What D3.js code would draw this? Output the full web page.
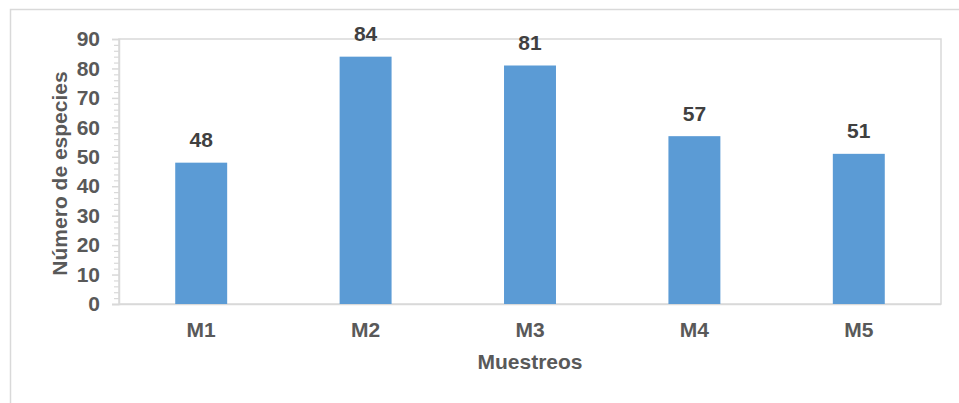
<!DOCTYPE html>
<html>
<head>
<meta charset="utf-8">
<script src="https://cdn.jsdelivr.net/npm/d3@7"></script>
<style>
  html, body { margin: 0; padding: 0; background: #ffffff; }
  svg { display: block; }
  text { font-family: "Liberation Sans", Arial, sans-serif; font-weight: bold; }
</style>
</head>
<body>
<svg id="chart" width="959" height="403"></svg>
<script>
// Species counts per sampling round
const categories = ["M1", "M2", "M3", "M4", "M5"];
const values = [48, 84, 81, 57, 51];
const yTicks = [0, 10, 20, 30, 40, 50, 60, 70, 80, 90];
const yTitle = "Número de especies";
const xTitle = "Muestreos";

const W = 959, H = 403;
const plot = { left: 119, right: 941, top: 39, bottom: 304 };
const grid = "#d9d9d9";
const labelColor = "#595959";
const fontSize = "21px";

const svg = d3.select("#chart");

// chart frame
svg.append("path")
  .attr("d", `M10.5,${H} V9.5 H${W}`)
  .attr("fill", "none")
  .attr("stroke", grid)
  .attr("stroke-width", 1.5);

const x = d3.scaleBand()
  .domain(categories)
  .range([plot.left, plot.right])
  .paddingInner(0.684)
  .paddingOuter(0.342);

const y = d3.scaleLinear()
  .domain([0, 90])
  .range([plot.bottom, plot.top]);

// plot area border
svg.append("rect")
  .attr("x", plot.left)
  .attr("y", plot.top)
  .attr("width", plot.right - plot.left)
  .attr("height", plot.bottom - plot.top)
  .attr("fill", "none")
  .attr("stroke", grid)
  .attr("stroke-width", 1.5);

// minor ticks every 2 units
const minorVals = d3.range(0, 91, 2).filter(v => v % 10 !== 0);
const yMinor = svg.append("g")
  .attr("transform", `translate(${plot.left},0)`)
  .call(d3.axisLeft(y).tickValues(minorVals).tickSize(5).tickFormat(""));
yMinor.select(".domain").remove();
yMinor.selectAll("line").attr("stroke", grid).attr("stroke-width", 1.2);

// major ticks and labels
const yAxis = svg.append("g")
  .attr("transform", `translate(${plot.left},0)`)
  .call(d3.axisLeft(y).tickValues(yTicks).tickSize(7).tickPadding(12));
yAxis.select(".domain").attr("stroke", grid).attr("stroke-width", 1.5);
yAxis.selectAll("line").attr("stroke", grid).attr("stroke-width", 1.5);
yAxis.selectAll("text")
  .attr("fill", labelColor)
  .style("font-size", fontSize)
  .style("font-family", "'Liberation Sans', Arial, sans-serif")
  .style("font-weight", "bold");

// category axis
const xAxis = svg.append("g")
  .attr("transform", `translate(0,${plot.bottom})`)
  .call(d3.axisBottom(x).tickSize(0).tickPadding(18));
xAxis.select(".domain")
  .attr("d", `M${plot.left - 7},0.5H${plot.right}`)
  .attr("stroke", grid)
  .attr("stroke-width", 1.5);
xAxis.selectAll("text")
  .attr("fill", labelColor)
  .style("font-size", fontSize)
  .style("font-family", "'Liberation Sans', Arial, sans-serif")
  .style("font-weight", "bold");

// bars
svg.append("g")
  .selectAll("rect")
  .data(categories)
  .join("rect")
  .attr("x", d => x(d))
  .attr("y", (d, i) => y(values[i]))
  .attr("width", x.bandwidth())
  .attr("height", (d, i) => y(0) - y(values[i]))
  .attr("fill", "#5b9bd5");

// value labels
svg.append("g")
  .selectAll("text")
  .data(categories)
  .join("text")
  .attr("x", d => x(d) + x.bandwidth() / 2)
  .attr("y", (d, i) => y(values[i]) - 15.5)
  .attr("text-anchor", "middle")
  .attr("fill", "#404040")
  .style("font-size", fontSize)
  .text((d, i) => values[i]);

// axis titles
svg.append("text")
  .attr("transform", `translate(67,${(plot.top + plot.bottom) / 2 + 2}) rotate(-90)`)
  .attr("text-anchor", "middle")
  .attr("fill", labelColor)
  .style("font-size", fontSize)
  .text(yTitle);

svg.append("text")
  .attr("x", (plot.left + plot.right) / 2)
  .attr("y", 369)
  .attr("text-anchor", "middle")
  .attr("fill", labelColor)
  .style("font-size", fontSize)
  .text(xTitle);
</script>
</body>
</html>
